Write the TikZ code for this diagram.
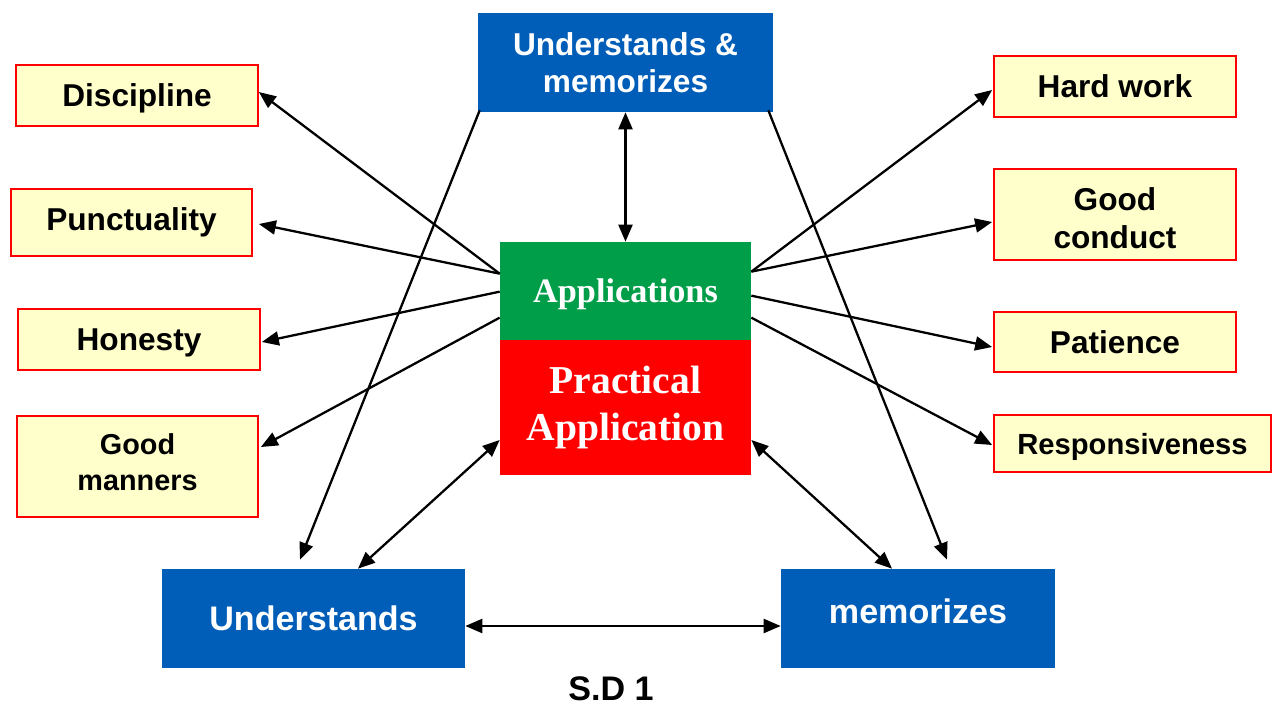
\documentclass[tikz,border=0pt]{standalone}
\usepackage{xcolor}
\usepackage{fontspec}
\setmainfont{Liberation Sans}
\newfontfamily\serifbold{Liberation Serif}
\usetikzlibrary{arrows.meta}

\definecolor{boxblue}{RGB}{0,94,184}
\definecolor{boxgreen}{RGB}{0,158,73}
\definecolor{paleyellow}{RGB}{255,255,204}

\tikzset{
    bluebox/.style={rectangle, fill=boxblue, text=white, font=\bfseries\fontsize{18}{21}\selectfont, align=center, inner sep=0pt},
    virtue/.style={rectangle, draw=red, line width=1pt, fill=paleyellow, font=\bfseries\fontsize{18}{21}\selectfont, align=center, inner sep=0pt, minimum width=4.84cm},
    link/.style={line width=1.3pt, -{Triangle[length=0.34cm,width=0.28cm]}},
    twoway/.style={line width=1.3pt, {Triangle[length=0.34cm,width=0.28cm]}-{Triangle[length=0.34cm,width=0.28cm]}}
}

\begin{document}
\begin{tikzpicture}[x=0.02cm, y=-0.02cm]
    \useasboundingbox (0,0) rectangle (1272,708);

    % Centre
    \node (apps) [rectangle, fill=boxgreen, text=white, minimum width=5.02cm, minimum height=1.96cm, text depth=0pt, font=\serifbold\bfseries\fontsize{19.5}{23}\selectfont] at (625.5,291) {Applications};
    \node (prac) [rectangle, fill=red, text=white, align=center, minimum width=5.02cm, minimum height=2.7cm, inner sep=0pt, font=\serifbold\bfseries\fontsize{22.5}{27}\selectfont] at (625.5,407.5) {Practical\\Application};

    % Blue boxes
    \node (top) [bluebox, minimum width=5.9cm, minimum height=1.98cm] at (625.5,62.5) {Understands \&\\memorizes};
    \node (und) [bluebox, minimum width=6.06cm, minimum height=1.98cm, font=\bfseries\fontsize{19.4}{23}\selectfont] at (313.5,618.5) {Understands};
    \node (mem) [bluebox, minimum width=5.48cm, minimum height=1.98cm, font=\bfseries\fontsize{19.4}{23}\selectfont, text depth=0.3cm] at (918,618.5) {memorizes};

    % Left virtues
    \node (disc) [virtue, minimum height=1.22cm, text depth=0pt] at (137,95.5) {Discipline};
    \node (punc) [virtue, minimum width=4.82cm, minimum height=1.34cm] at (131.5,222.5) {Punctuality};
    \node (hon) [virtue, minimum height=1.22cm, text depth=0pt] at (139,339.5) {Honesty};
    \node (gm) [virtue, minimum width=4.82cm, minimum height=2.02cm, text depth=0.18cm, font=\bfseries\fontsize{16.4}{20.5}\selectfont] at (137.5,466.5) {Good\\manners};

    % Right virtues
    \node (hw) [virtue, minimum height=1.22cm] at (1115,86.5) {Hard work};
    \node (gc) [virtue, minimum height=1.82cm, text height=1.36cm, font=\bfseries\fontsize{18}{21.6}\selectfont] at (1115,214.5) {Good\\conduct};
    \node (pat) [virtue, minimum height=1.2cm] at (1115,342) {Patience};
    \node (resp) [virtue, minimum width=5.54cm, minimum height=1.14cm, text depth=0pt, font=\bfseries\fontsize{16.6}{19}\selectfont] at (1132.5,443.5) {Responsiveness};

    % Caption
    \node (sd) [font=\bfseries\fontsize{19.4}{23}\selectfont] at (611,689) {S.D 1};

    % Arrows to the left
    \draw[link] ([yshift=-0.64cm]apps.north west) -- ([yshift=0.07cm]disc.east);
    \draw[link] ([yshift=-0.64cm]apps.north west) -- ([xshift=0.12cm, yshift=-0.03cm]punc.east);
    \draw[link] ([yshift=-1cm]apps.north west) -- ([xshift=0.02cm, yshift=-0.05cm]hon.east);
    \draw[link] ([yshift=-1.52cm]apps.north west) -- ([xshift=0.04cm, yshift=0.39cm]gm.east);

    % Arrows to the right
    \draw[link] ([yshift=-0.6cm]apps.north east) -- ([xshift=-0.02cm, yshift=-0.07cm]hw.west);
    \draw[link] ([yshift=-0.6cm]apps.north east) -- ([xshift=-0.02cm, yshift=-0.15cm]gc.west);
    \draw[link] ([yshift=-1.08cm]apps.north east) -- ([xshift=-0.02cm, yshift=-0.1cm]pat.west);
    \draw[link] ([yshift=-1.52cm]apps.north east) -- ([xshift=-0.02cm, yshift=-0.03cm]resp.west);

    % Triangle
    \draw[twoway] (top.south) -- (apps.north);
    \draw[link] ([xshift=0.04cm, yshift=0.04cm]top.south west) -- ([xshift=-0.27cm, yshift=0.18cm]und.north);
    \draw[link] ([xshift=-0.1cm, yshift=0.04cm]top.south east) -- ([xshift=0.58cm, yshift=0.18cm]mem.north);
    \draw[twoway] ([yshift=-0.65cm]prac.west) -- ([xshift=0.89cm]und.north);
    \draw[twoway] ([yshift=-0.65cm]prac.east) -- ([xshift=-0.52cm]mem.north);
    \draw[twoway] ([yshift=-0.15cm]und.east) -- ([yshift=-0.15cm]mem.west);
\end{tikzpicture}
\end{document}
